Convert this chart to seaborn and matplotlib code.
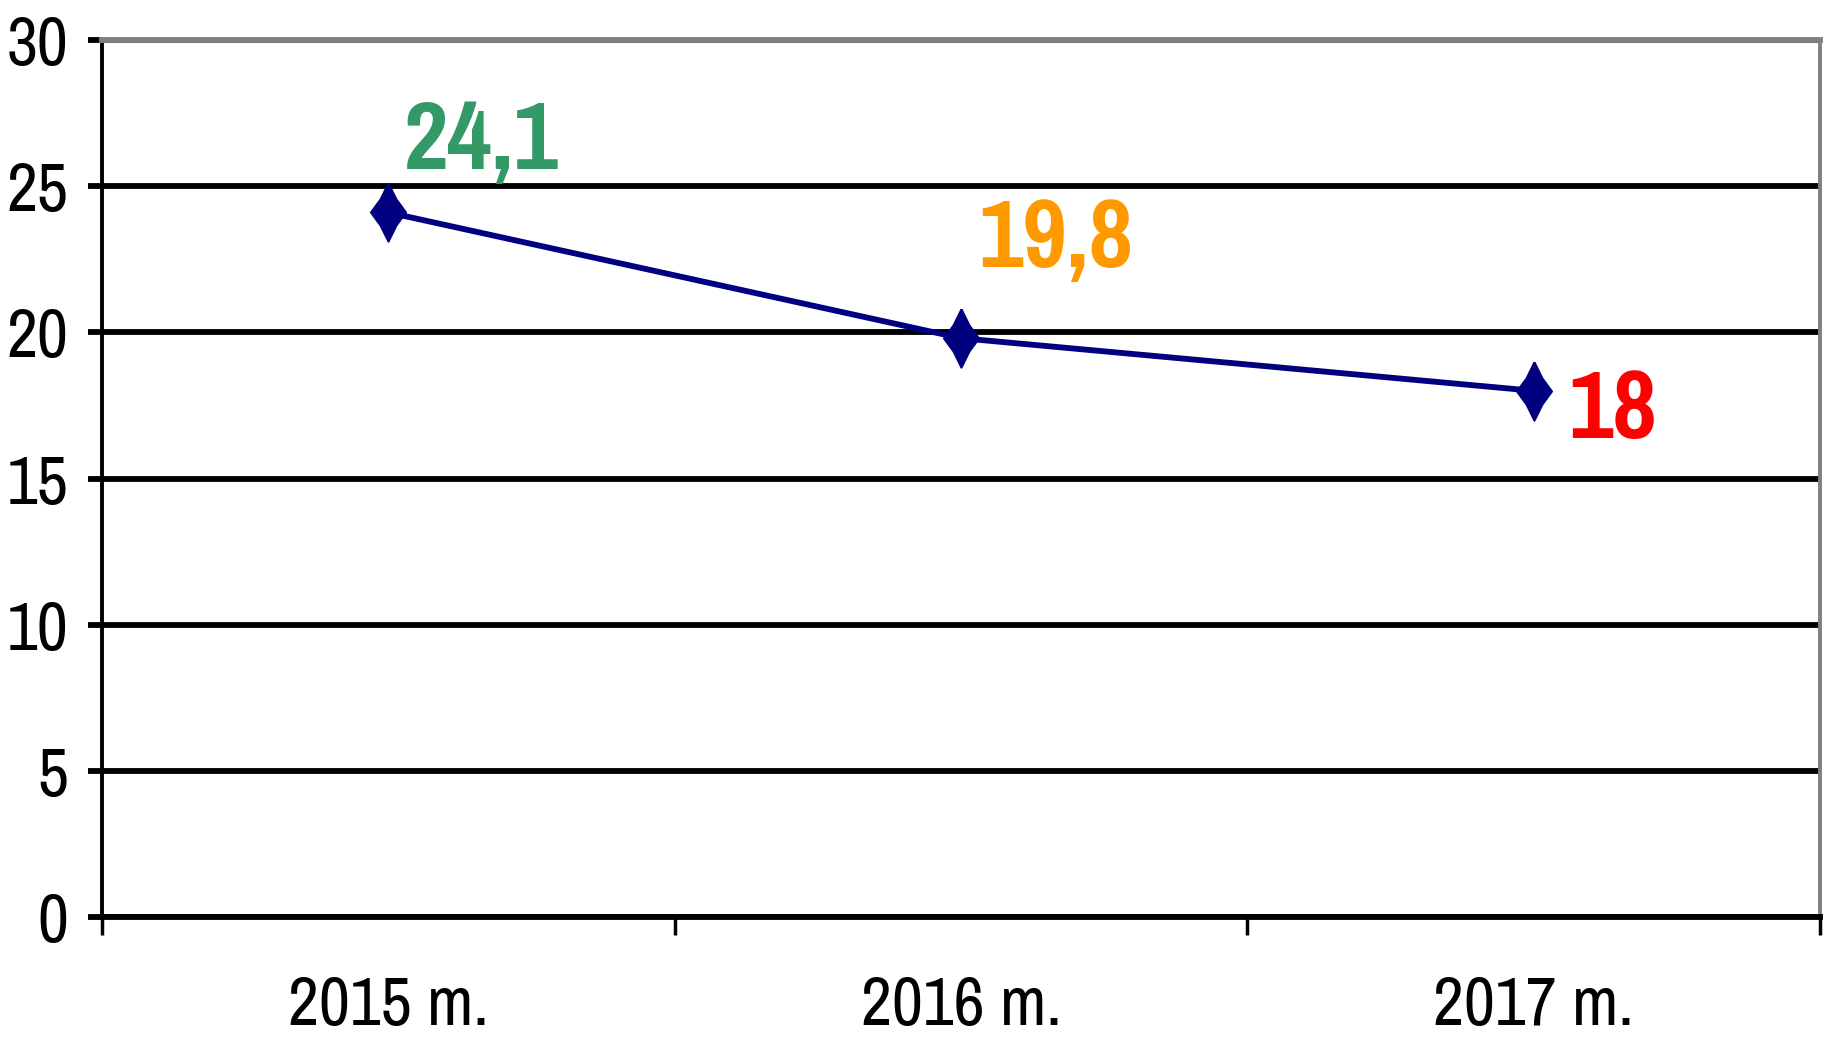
import numpy as np
import pandas as pd
import seaborn as sns
import matplotlib.pyplot as plt
from matplotlib.ticker import FixedLocator

years = ["2015 m.", "2016 m.", "2017 m."]
values = [24.1, 19.8, 18]
labels = ["24,1", "19,8", "18"]
label_colors = ["#339966", "#FF9900", "#FF0000"]
yticks = [0, 5, 10, 15, 20, 25, 30]

sns.set_theme(style="white")
plt.rcParams['font.family'] = ['Pragati Narrow', 'Roboto Condensed', 'DejaVu Sans']

df = pd.DataFrame({"year": years, "value": values})

# tall diamond with slightly pinched sides, like the office-chart marker
diamond = [(0, 1), (0.27, 0.45), (0.6, 0), (0.27, -0.45), (0, -1),
           (-0.27, -0.45), (-0.6, 0), (-0.27, 0.45), (0, 1)]

fig = plt.figure(figsize=(18.31, 10.44), dpi=100)
ax = fig.add_axes([0.0557, 0.1216, 0.9383, 0.8401])

sns.lineplot(data=df, x="year", y="value", ax=ax, color="#000080", linewidth=4.2,
             marker=diamond, markersize=42, markeredgecolor="#000080", markeredgewidth=1.5, zorder=5)

ax.set_ylim(0, 30)
ax.set_xlim(-0.5, 2.5)
ax.set_yticks(yticks)
ax.set_yticklabels([str(t) for t in yticks], fontsize=53, color="black")

# category boundaries get the tick marks, labels sit in between
ax.xaxis.set_major_locator(FixedLocator([-0.5, 0.5, 1.5, 2.5]))
ax.xaxis.set_minor_locator(FixedLocator([0, 1, 2]))
ax.set_xticklabels([], minor=False)
ax.set_xticklabels(years, minor=True, fontsize=53, color="black")
ax.tick_params(axis="x", which="major", length=13, width=2.5, color="black", direction="out", bottom=True)
ax.tick_params(axis="x", which="minor", length=0, pad=42, bottom=True)
ax.tick_params(axis="y", length=10, width=4.2, color="black", direction="out", left=True, pad=14)

ax.set_xlabel("")
ax.set_ylabel("")

ax.yaxis.grid(True, color="black", linewidth=4.2)
ax.xaxis.grid(False)

ax.spines["left"].set_color("black")
ax.spines["left"].set_linewidth(2.8)
ax.spines["bottom"].set_color("black")
ax.spines["bottom"].set_linewidth(4.2)
ax.spines["top"].set_color("#808080")
ax.spines["top"].set_linewidth(4.2)
ax.spines["right"].set_color("#808080")
ax.spines["right"].set_linewidth(2.8)
for s in ax.spines.values():
    s.set_visible(True)
    s.set_zorder(3)

offsets = [(67, 31), (68, 51), (57, -34)]
for i, (v, txt, c) in enumerate(zip(values, labels, label_colors)):
    dx, dy = offsets[i]
    ax.annotate(txt, xy=(i, v), xytext=(dx, dy), textcoords="offset points",
                ha="center", va="baseline", color=c, fontsize=76, fontweight="bold")

plt.savefig("out.png", dpi=100)
